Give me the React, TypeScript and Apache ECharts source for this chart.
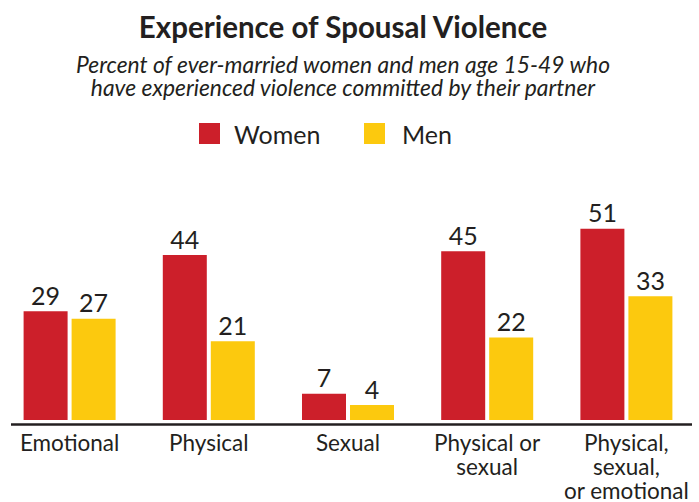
import React, { useEffect, useRef } from "react";
import * as echarts from "echarts";

const categories = ["Emotional", "Physical", "Sexual", "Physical or\nsexual", "Physical,\nsexual,\nor emotional"];
const women = [29, 44, 7, 45, 51];
const men = [27, 21, 4, 22, 33];
const titleText = "Experience of Spousal Violence";
const subtitleText = "Percent of ever-married women and men age 15-49 who\nhave experienced violence committed by their partner";

const RED = "#cc1f2a";
const YELLOW = "#fcc90e";
const INK = "#231f20";
const FONT = "Lato";

export default function App() {
  const ref = useRef<HTMLDivElement>(null);
  useEffect(() => {
    const chart = echarts.init(ref.current!, null, { renderer: "svg" });
    chart.setOption({
      animation: false,
      backgroundColor: "#ffffff",
      title: [
        {
          text: titleText,
          left: 338,
          top: 6,
          textAlign: "center",
          textStyle: { fontFamily: FONT, fontSize: 29.5, fontWeight: "bold", color: INK },
        },
        {
          text: subtitleText,
          left: 338,
          top: 47,
          textAlign: "center",
          textStyle: { fontFamily: FONT, fontSize: 22.8, fontStyle: "italic", fontWeight: "normal", color: INK, lineHeight: 23 },
        },
      ],
      legend: [
        {
          data: ["Women"],
          left: 194,
          top: 116,
          itemWidth: 21,
          itemHeight: 21,
          icon: "rect",
          textStyle: { fontFamily: FONT, fontSize: 25, color: INK, padding: [0, 0, 0, 9] },
        },
        {
          data: ["Men"],
          left: 359,
          top: 116,
          itemWidth: 21,
          itemHeight: 21,
          icon: "rect",
          textStyle: { fontFamily: FONT, fontSize: 25, color: INK, padding: [0, 0, 0, 12] },
        },
      ],
      grid: { left: -1, width: 697, top: 195, bottom: 78, containLabel: false },
      xAxis: {
        type: "category",
        data: categories,
        axisLine: { show: false },
        axisTick: { show: false },
        axisLabel: { fontFamily: FONT, fontSize: 22.5, color: INK, lineHeight: 24, margin: 10, interval: 0 },
      },
      yAxis: { type: "value", min: 0, max: 60, show: false, splitLine: { show: false } },
      series: [
        {
          name: "Women",
          type: "bar",
          data: women,
          barWidth: 44,
          barGap: "9.1%",
          itemStyle: { color: RED },
          label: { show: true, position: "top", distance: 4, fontFamily: FONT, fontSize: 25, color: INK },
        },
        {
          name: "Men",
          type: "bar",
          data: men,
          barWidth: 44,
          itemStyle: { color: YELLOW },
          label: { show: true, position: "top", distance: 4, fontFamily: FONT, fontSize: 25, color: INK },
        },
      ],
      graphic: [
        {
          type: "line",
          z: 100,
          shape: { x1: 11, y1: 424.5, x2: 692, y2: 424.5 },
          style: { stroke: INK, lineWidth: 2.5 },
        },
      ],
    });
    return () => chart.dispose();
  }, []);
  return <div ref={ref} style={{ position: "fixed", left: 0, top: 0, width: 699, height: 502 }} />;
}
